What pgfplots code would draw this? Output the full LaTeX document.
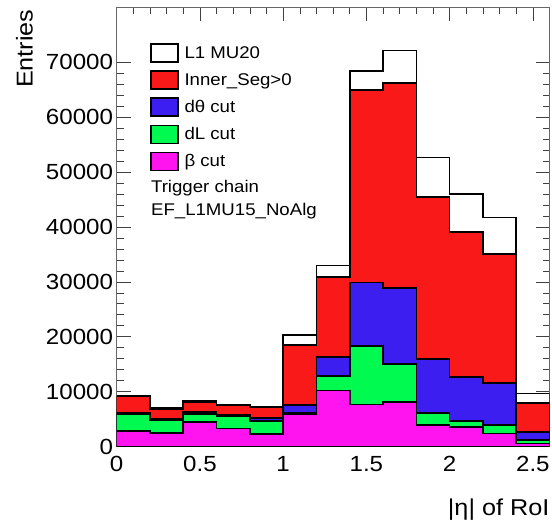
\documentclass[border=0pt]{standalone}
\usepackage{fontspec}
\setmainfont{Liberation Sans}[FakeStretch=1.1]
\usepackage{pgfplots}
\pgfplotsset{compat=1.18}
\definecolor{hred}{RGB}{250,25,25}
\definecolor{hblue}{RGB}{60,30,240}
\definecolor{hgreen}{RGB}{0,250,80}
\definecolor{hmag}{RGB}{255,20,240}
\begin{document}
\begin{tikzpicture}
\useasboundingbox (-116.7bp,-75.3bp) rectangle (435.3bp,446.7bp);
\begin{axis}[
  at={(0,0)}, anchor=south west, scale only axis,
  width=432.8bp, height=439.7bp,
  xmin=0, xmax=2.6, ymin=0, ymax=80000,
  xtick={0,0.5,1,1.5,2,2.5}, minor x tick num=4,
  ytick={0,10000,20000,30000,40000,50000,60000,70000}, minor y tick num=4,
  scaled ticks=false,
  /pgf/number format/1000 sep={},
  /pgf/number format/assume math mode=true,
  tick align=inside,
  major tick length=14bp, minor tick length=7bp,
  every tick/.style={black!75, line width=0.6bp},
  axis line style={black!60, line width=0.8bp},
  tick label style={font=\fontsize{22}{26}\selectfont},
  xticklabel style={anchor=base, yshift=-25bp},
  yticklabel style={anchor=east, inner sep=0pt, xshift=-3.5bp},
  xlabel={|η| of RoI}, ylabel={Entries},
  label style={font=\fontsize{23}{27}\selectfont},
  xlabel style={at={(rel axis cs:1,-0.157)}, anchor=base east, inner sep=0pt},
  ylabel style={at={(rel axis cs:-0.1934,0.995)}, anchor=south east, inner sep=0pt},
  legend style={at={(rel axis cs:0.077,0.918)}, anchor=north west, draw=none, fill=none,
    inner sep=0pt, font=\fontsize{17}{20}\selectfont, row sep=7.5bp, column sep=6bp,
    nodes={inner sep=0pt}},
  legend cell align=left,
  legend image code/.code={\draw[#1] (0bp,-9bp) rectangle (26.7bp,9bp);},
]
\addplot[const plot, fill=white, draw=black, line width=1.6pt] coordinates {
 (0,9300) (0.2,7000) (0.4,8300) (0.6,7700) (0.8,7300) (1.0,20300) (1.2,33000)
 (1.4,68400) (1.6,72100) (1.8,52600) (2.0,46000) (2.2,41700) (2.4,9700) (2.6,9700)} \closedcycle;
\addlegendentry{L1 MU20}
\addplot[const plot, fill=hred, draw=black, line width=1.6pt] coordinates {
 (0,9100) (0.2,6800) (0.4,8100) (0.6,7500) (0.8,7100) (1.0,18500) (1.2,30900)
 (1.4,64900) (1.6,66200) (1.8,45400) (2.0,39100) (2.2,35100) (2.4,7900) (2.6,7900)} \closedcycle;
\addlegendentry{Inner\_Seg>0}
\addplot[const plot, fill=hblue, draw=black, line width=1.6pt] coordinates {
 (0,6200) (0.2,5100) (0.4,6300) (0.6,5800) (0.8,5200) (1.0,7600) (1.2,16300)
 (1.4,29900) (1.6,28900) (1.8,16000) (2.0,12700) (2.2,11600) (2.4,2700) (2.6,2700)} \closedcycle;
\addlegendentry{dθ cut}
\addplot[const plot, fill=hgreen, draw=black, line width=1.6pt] coordinates {
 (0,5900) (0.2,4900) (0.4,6000) (0.6,5600) (0.8,4700) (1.0,6200) (1.2,12900)
 (1.4,18300) (1.6,15100) (1.8,6100) (2.0,4700) (2.2,3900) (2.4,1200) (2.6,1200)} \closedcycle;
\addlegendentry{dL cut}
\addplot[const plot, fill=hmag, draw=black, line width=1.6pt] coordinates {
 (0,2900) (0.2,2500) (0.4,4500) (0.6,3300) (0.8,2300) (1.0,5900) (1.2,10200)
 (1.4,7700) (1.6,8100) (1.8,3900) (2.0,3600) (2.2,2400) (2.4,600) (2.6,600)} \closedcycle;
\addlegendentry{β cut}
\node[anchor=base west, font=\fontsize{17}{20}\selectfont, inner sep=0pt] at (rel axis cs:0.079,0.577) {Trigger chain};
\node[anchor=base west, font=\fontsize{17}{20}\selectfont, inner sep=0pt] at (rel axis cs:0.079,0.5247) {EF\_L1MU15\_NoAlg};
\end{axis}
\end{tikzpicture}
\end{document}
